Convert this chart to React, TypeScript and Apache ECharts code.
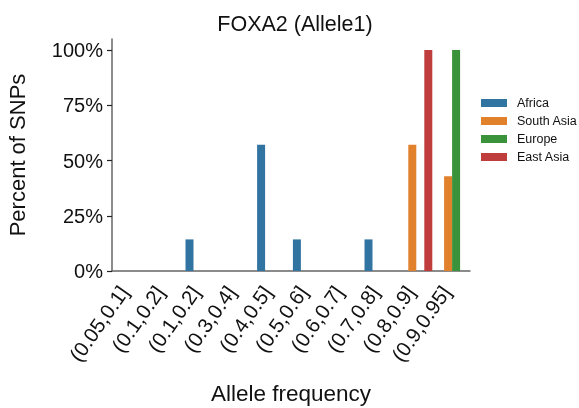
import React, { useEffect, useRef } from "react";
import * as echarts from "echarts";

const categories = [
  "(0.05,0.1]",
  "(0.1,0.2]",
  "(0.1,0.2]",
  "(0.3,0.4]",
  "(0.4,0.5]",
  "(0.5,0.6]",
  "(0.6,0.7]",
  "(0.7,0.8]",
  "(0.8,0.9]",
  "(0.9,0.95]",
];
const seriesNames = ["Africa", "South Asia", "Europe", "East Asia"];
const africa = [0, 0, 0.143, 0, 0.571, 0.143, 0, 0.143, 0, 0];
const southAsia = [0, 0, 0, 0, 0, 0, 0, 0, 0.571, 0.429];
const europe = [0, 0, 0, 0, 0, 0, 0, 0, 0, 1.0];
const eastAsia = [0, 0, 0, 0, 0, 0, 0, 0, 1.0, 0];
const yTicks = [0, 0.25, 0.5, 0.75, 1.0];
const colors = ["#3274a1", "#e1812c", "#3a923a", "#c03d3e"];

const FONT = "'Liberation Sans', Arial, Helvetica, sans-serif";

export default function App() {
  const ref = useRef<HTMLDivElement>(null);
  useEffect(() => {
    if (!ref.current) return;
    const chart = echarts.init(ref.current, undefined, { renderer: "svg" });
    const values = [africa, southAsia, europe, eastAsia];
    chart.setOption({
      animation: false,
      textStyle: { fontFamily: FONT },
      title: {
        text: "FOXA2 (Allele1)",
        left: 295,
        top: 13,
        padding: 0,
        textAlign: "center",
        textStyle: { fontFamily: FONT, fontSize: 21.5, fontWeight: "normal", color: "#111" },
      },
      legend: {
        orient: "vertical",
        left: 481,
        top: 96,
        padding: 0,
        itemWidth: 26,
        itemHeight: 8,
        itemGap: 4,
        icon: "rect",
        data: seriesNames,
        textStyle: { fontFamily: FONT, fontSize: 12.5, color: "#111", lineHeight: 14, padding: [0, 0, 0, 5] },
      },
      grid: {
        left: 112,
        right: 109,
        top: 39,
        bottom: 137,
        containLabel: false,
        outerBoundsMode: "none",
      },
      xAxis: {
        type: "category",
        data: categories,
        name: "Allele frequency",
        nameLocation: "middle",
        nameGap: 111,
        nameTextStyle: { fontFamily: FONT, fontSize: 22.5, color: "#111" },
        axisLine: { lineStyle: { color: "#666", width: 1.5 } },
        axisTick: { alignWithLabel: true, length: 5, lineStyle: { color: "#222", width: 1.2 } },
        axisLabel: {
          interval: 0,
          rotate: 55,
          fontSize: 20.5,
          color: "#111",
          margin: 8,
          padding: [0, 11, 0, 0],
        },
      },
      yAxis: {
        type: "value",
        min: 0,
        max: 1.05,
        name: "Percent of SNPs",
        nameLocation: "middle",
        nameGap: 84,
        nameTextStyle: { fontFamily: FONT, fontSize: 22, color: "#111" },
        splitLine: { show: false },
        axisLine: { show: true, lineStyle: { color: "#666", width: 1.5 } },
        axisTick: { show: true, length: 5, customValues: yTicks, lineStyle: { color: "#222", width: 1.2 } },
        axisLabel: {
          customValues: yTicks,
          fontSize: 20,
          color: "#111",
          margin: 9,
          formatter: (v: number) => Math.round(v * 100) + "%",
        },
      },
      series: seriesNames.map((n, i) => ({
        name: n,
        type: "bar",
        data: values[i],
        barWidth: 8,
        barGap: "0%",
        itemStyle: { color: colors[i] },
      })),
    });
    return () => chart.dispose();
  }, []);
  return (
    <div
      ref={ref}
      style={{ position: "fixed", left: 0, top: 0, width: 579, height: 408 }}
    />
  );
}
